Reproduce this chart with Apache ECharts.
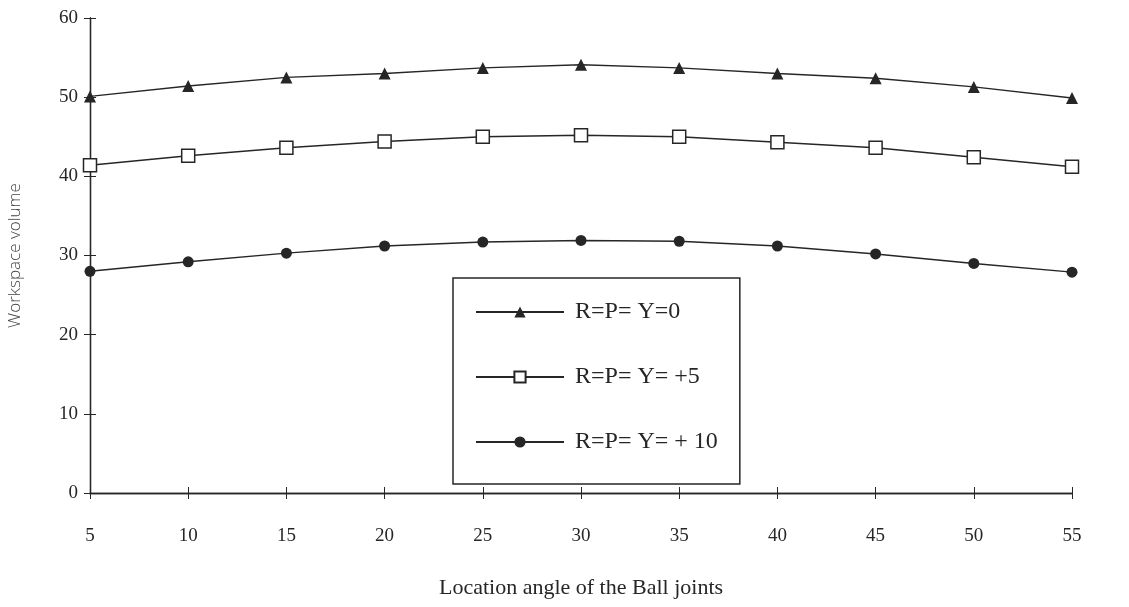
<!DOCTYPE html>
<html><head><meta charset="utf-8">
<script src="https://cdn.jsdelivr.net/npm/echarts@6/dist/echarts.min.js"></script>
<style>html,body{margin:0;padding:0;background:#fff}#c{width:1129px;height:607px}</style>
</head><body><div id="c"></div>
<script>
const angles = [5, 10, 15, 20, 25, 30, 35, 40, 45, 50, 55];
const seriesNames = ['R=P= Y=0', 'R=P= Y= +5', 'R=P= Y= + 10'];
const rpy0 = [50.1, 51.4, 52.5, 53.0, 53.7, 54.1, 53.7, 53.0, 52.4, 51.3, 49.9];
const rpy5 = [41.4, 42.6, 43.6, 44.4, 45.0, 45.2, 45.0, 44.3, 43.6, 42.4, 41.2];
const rpy10 = [28.0, 29.2, 30.3, 31.2, 31.7, 31.9, 31.8, 31.2, 30.2, 29.0, 27.9];
const xTitle = 'Location angle of the Ball joints';
const yTitle = 'Workspace volume';

const pair = v => angles.map((a, i) => [a, v[i]]);
const ink = '#262626';
const serif = '"Liberation Serif", "DejaVu Serif", serif';
const chart = echarts.init(document.getElementById('c'));
const axisBase = {
  axisLine: { show: true, lineStyle: { color: ink, width: 1.3 } },
  splitLine: { show: false }
};
chart.setOption({
  animation: false,
  backgroundColor: '#fff',
  grid: { left: 90, right: 57, top: 18, bottom: 114, outerBoundsMode: 'none', containLabel: false },
  xAxis: [
    Object.assign({}, axisBase, {
      type: 'value', min: 5, max: 55, interval: 5,
      axisTick: { show: true, inside: false, length: 6, lineStyle: { color: ink } },
      axisLabel: { color: ink, fontFamily: serif, fontSize: 19, margin: 34 },
      name: xTitle, nameLocation: 'middle', nameGap: 84,
      nameTextStyle: { color: ink, fontFamily: serif, fontSize: 22 }
    }),
    Object.assign({}, axisBase, {
      type: 'value', min: 5, max: 55, interval: 5, position: 'bottom',
      axisTick: { show: true, inside: true, length: 6, lineStyle: { color: ink } },
      axisLabel: { show: false }
    })
  ],
  yAxis: [
    Object.assign({}, axisBase, {
      type: 'value', min: 0, max: 60, interval: 10,
      axisTick: { show: true, inside: false, length: 6, lineStyle: { color: ink } },
      axisLabel: { color: ink, fontFamily: serif, fontSize: 19, margin: 12 },
      name: yTitle, nameLocation: 'middle', nameGap: 66,
      nameTextStyle: { color: '#444', fontFamily: '"Open Sans", "DejaVu Sans", sans-serif', fontSize: 17, fontWeight: 300 }
    }),
    Object.assign({}, axisBase, {
      type: 'value', min: 0, max: 60, interval: 10, position: 'left',
      axisTick: { show: true, inside: true, length: 6, lineStyle: { color: ink } },
      axisLabel: { show: false }
    })
  ],
  legend: {
    orient: 'vertical', left: 453, top: 278,
    padding: [22, 22, 30, 22],
    itemGap: 41, itemWidth: 88, itemHeight: 14,
    borderColor: ink, borderWidth: 1.5,
    textStyle: { color: ink, fontFamily: serif, fontSize: 24, padding: [0, 0, 0, 6] },
    data: seriesNames
  },
  series: [
    { name: seriesNames[0], type: 'line', data: pair(rpy0), symbol: 'triangle', symbolSize: 12,
      lineStyle: { color: ink, width: 1.5 }, itemStyle: { color: ink } },
    { name: seriesNames[1], type: 'line', data: pair(rpy5), symbol: 'rect', symbolSize: 13,
      lineStyle: { color: ink, width: 1.5 }, itemStyle: { color: '#fff', borderColor: ink, borderWidth: 1.5 } },
    { name: seriesNames[2], type: 'line', data: pair(rpy10), symbol: 'circle', symbolSize: 11,
      lineStyle: { color: ink, width: 1.5 }, itemStyle: { color: ink } }
  ]
});
</script></body></html>
